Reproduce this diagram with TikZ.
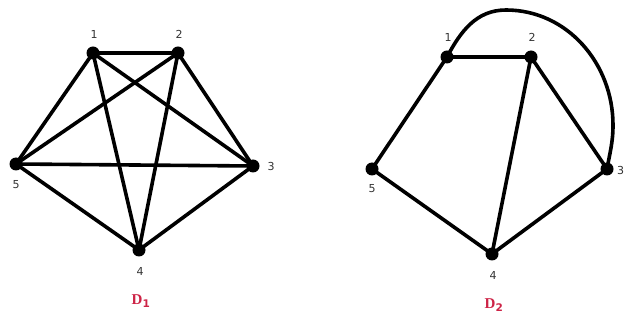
\documentclass[tikz,border=0pt]{standalone}
\usepackage{fontspec}
\setmainfont{DejaVu Sans}
\newfontfamily\capfont{Liberation Serif}
\definecolor{capred}{RGB}{205,35,70}
\begin{document}
\begin{tikzpicture}[x=1pt,y=-1pt,
  vtx/.style={circle,fill=black,inner sep=0pt,minimum size=13pt},
  edge/.style={line width=3.6pt,line cap=round},
  lbl/.style={font=\fontsize{11}{13}\selectfont,inner sep=0pt,text=black!80},
  captxt/.style={font=\capfont\bfseries\fontsize{15}{17}\selectfont,text=capred}]
\useasboundingbox (0,0) rectangle (624,320);
% D1
\node[vtx] (a1) at (93,53) {};
\node[vtx] (a2) at (178,53) {};
\node[vtx] (a3) at (253,166) {};
\node[vtx] (a4) at (139,250) {};
\node[vtx] (a5) at (16,164) {};
\foreach \u/\v in {a1/a2,a1/a3,a1/a4,a1/a5,a2/a3,a2/a4,a2/a5,a3/a4,a3/a5,a4/a5}
  \draw[edge] (\u.center) -- (\v.center);
\node[lbl] (l1) at (94,34) {1};
\node[lbl] (l2) at (179,34) {2};
\node[lbl] (l3) at (271,166) {3};
\node[lbl] (l4) at (140,271) {4};
\node[lbl] (l5) at (16,185) {5};
\node[captxt] (c1) at (141,301) {D$_{\mathbf{1}}$};
% D2
\node[vtx] (b1) at (447,57) {};
\node[vtx] (b2) at (531,57) {};
\node[vtx] (b3) at (607,169) {};
\node[vtx] (b4) at (492,254) {};
\node[vtx] (b5) at (372,169) {};
\foreach \u/\v in {b1/b2,b1/b5,b2/b3,b2/b4,b3/b4,b4/b5}
  \draw[edge] (\u.center) -- (\v.center);
\coordinate (top) at (506,10);
\coordinate (rgt) at (613,125);
\draw[edge] (b1.center) to[out=62,in=180] (top) to[out=0,in=90] (rgt) to[out=-90,in=80] (b3.center);
\node[lbl] (m1) at (448,37) {1};
\node[lbl] (m2) at (532,37) {2};
\node[lbl,anchor=west] (m3) at (617,170) {3};
\node[lbl] (m4) at (493,275) {4};
\node[lbl] (m5) at (372,189) {5};
\node[captxt] (c2) at (494,305) {D$_{\mathbf{2}}$};
\end{tikzpicture}
\end{document}
